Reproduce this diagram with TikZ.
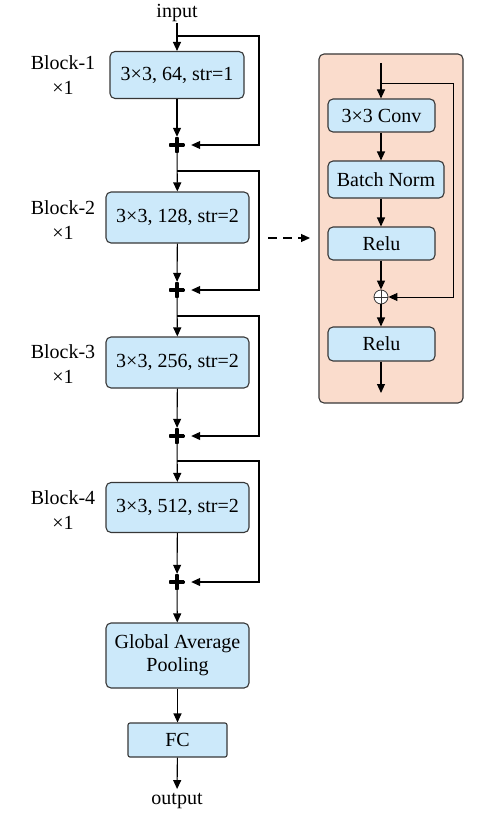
\documentclass[tikz,border=0pt]{standalone}
\usepackage{fontspec}
\setmainfont{Liberation Serif}
\usepackage{xcolor}
\usetikzlibrary{arrows.meta, positioning}
\definecolor{layerBlue}{RGB}{204,233,250}
\definecolor{panelPeach}{RGB}{250,220,204}
\definecolor{edgeGray}{RGB}{55,55,55}
\tikzset{
    layerBox/.style={rectangle, rounded corners=5pt, draw=edgeGray, fill=layerBlue, line width=1.1pt, inner sep=2pt, font=\fontsize{20}{24}\selectfont},
    plainText/.style={inner sep=1pt, font=\fontsize{20}{25}\selectfont, align=center},
    addNode/.style={circle, inner sep=0pt, minimum size=16pt, path picture={
        \draw[line width=3.2pt] (path picture bounding box.west)--(path picture bounding box.east)
              (path picture bounding box.north)--(path picture bounding box.south);}},
    oplusNode/.style={circle, draw=edgeGray, fill=white, line width=0.8pt, inner sep=0pt, minimum size=14pt, path picture={
        \draw[line width=0.8pt] (path picture bounding box.west)--(path picture bounding box.east)
              (path picture bounding box.north)--(path picture bounding box.south);}},
    flow/.style={->, line width=1.1pt}
}

\begin{document}
\begin{tikzpicture}[x=1pt, y=-1pt, >={Triangle[length=9pt, width=8pt]}]
    \useasboundingbox (0,0) rectangle (490,832);
    % main column
    \node[plainText] (input) at (177,13) {input};
    \node[layerBox, minimum width=134pt, minimum height=47pt] (b1) at (177,75) {3×3, 64, str=1};
    \node[layerBox, minimum width=143pt, minimum height=51pt] (b2) at (177.5,217.5) {3×3, 128, str=2};
    \node[layerBox, minimum width=143pt, minimum height=51pt] (b3) at (177.5,362.5) {3×3, 256, str=2};
    \node[layerBox, minimum width=143pt, minimum height=50pt] (b4) at (177.5,507.5) {3×3, 512, str=2};
    \foreach \i/\y in {1/145, 2/290, 3/436, 4/582}
        \node[addNode] (p\i) at (177,\y) {};
    \foreach \i/\y in {1/75, 2/220, 3/364, 4/510}
        \node[plainText] (lb\i) at (63,\y) {Block-\i\\×1};
    \node[layerBox, minimum width=143pt, minimum height=65pt, align=center] (gap) at (177.5,655.5) {Global Average\\[-1pt]Pooling};
    \node[layerBox, rounded corners=2pt, minimum width=99pt, minimum height=34pt] (fc) at (177.5,740) {FC};
    \node[plainText] (output) at (177,801) {output};

    \coordinate (s1) at (177,36);  \coordinate (s2) at (177,171);
    \coordinate (s3) at (177,316); \coordinate (s4) at (177,461);

    \draw[flow] (input) -- (b1);
    \draw[flow] (p1) -- (b2);
    \draw[flow] (p2) -- (b3);
    \draw[flow] (p3) -- (b4);
    \foreach \i in {1,...,4} {
        \draw[flow] (b\i) -- (p\i);
        \draw[flow, shorten >=6pt] (s\i) -| (259,0 |- p\i.center) -- (p\i.east);
    }
    \draw[flow] (p4) -- (gap);
    \draw[flow] (gap) -- (fc);
    \draw[flow, shorten >=3pt] (fc) -- (output);

    % residual unit detail
    \draw[draw=edgeGray, fill=panelPeach, line width=1.1pt, rounded corners=5pt] (319,54) rectangle (463,403);
    \node[layerBox, minimum width=107pt, minimum height=33pt] (conv) at (381.5,115.5) {3×3 Conv};
    \node[layerBox, minimum width=116pt, minimum height=37pt] (bn) at (386,179.5) {Batch Norm};
    \node[layerBox, minimum width=107pt, minimum height=33pt] (relu1) at (381.5,243.5) {Relu};
    \node[oplusNode] (add) at (381,297) {};
    \node[layerBox, minimum width=107pt, minimum height=34pt] (relu2) at (381.5,344) {Relu};
    \coordinate (rin) at (381,63);  \coordinate (rsk) at (381,83);
    \coordinate (rout) at (381,393);
    \draw[flow] (rin) -- (rin |- conv.north);
    \draw[flow] (rin |- conv.south) -- (rin |- bn.north);
    \draw[flow] (rin |- bn.south) -- (rin |- relu1.north);
    \draw[flow] (rin |- relu1.south) -- (add);
    \draw[flow] (add) -- (rin |- relu2.north);
    \draw[flow] (rin |- relu2.south) -- (rout);
    \draw[flow, line width=0.9pt] (rsk) -| (453,0 |- add.center) -- (add.east);

    \coordinate (d1) at (268,238); \coordinate (d2) at (310,238);
    \draw[flow, dash pattern=on 9pt off 6pt] (d1) -- (d2);
\end{tikzpicture}
\end{document}
